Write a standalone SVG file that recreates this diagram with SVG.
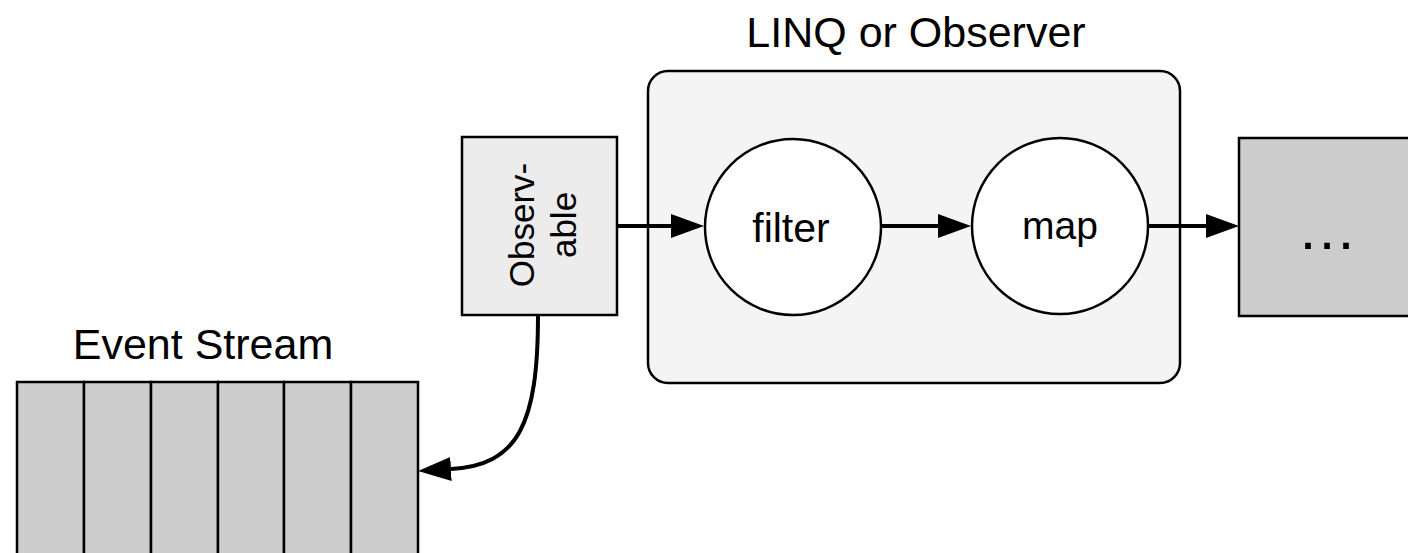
<svg xmlns="http://www.w3.org/2000/svg" width="1408" height="553" viewBox="0 0 1408 553">
<style>
  text { font-family: "Liberation Sans", Arial, Helvetica, sans-serif; fill: #000; }
  .box { stroke: #000; stroke-width: 2.5; }
  .conn { fill: none; stroke: #000; stroke-width: 4; }
</style>
<defs>
  <marker id="arrow" viewBox="0 0 33 24" refX="0" refY="12" markerWidth="33" markerHeight="24" markerUnits="userSpaceOnUse" orient="auto">
    <path d="M0,0 L33,12 L0,24 z" fill="#000"/>
  </marker>
</defs>

<g id="container">
  <rect class="box" x="648" y="71" width="532" height="312" rx="20" ry="20" fill="#f4f4f4"/>
  <text x="916" y="47" font-size="43" text-anchor="middle">LINQ or Observer</text>
</g>

<g id="observable">
  <rect class="box" x="462" y="137" width="155" height="178" fill="#ececec"/>
  <g transform="translate(540,225) rotate(-90)">
    <text x="0" y="-6" font-size="35" text-anchor="middle">Observ-</text>
    <text x="0" y="36" font-size="35" text-anchor="middle">able</text>
  </g>
</g>

<g id="filter">
  <circle class="box" cx="793" cy="227" r="88" fill="#fff"/>
  <text x="791" y="242" font-size="41" text-anchor="middle">filter</text>
</g>

<g id="map">
  <circle class="box" cx="1060" cy="226" r="88" fill="#fff"/>
  <text x="1060" y="239" font-size="39" text-anchor="middle">map</text>
</g>

<g id="next">
  <rect class="box" x="1239" y="138" width="180" height="178" fill="#cccccc"/>
  <text x="1327" y="249" font-size="60" text-anchor="middle">…</text>
</g>

<g id="event-stream">
  <text x="203" y="359" font-size="43" text-anchor="middle">Event Stream</text>
  <rect class="box" x="17" y="382" width="67" height="190" fill="#cccccc"/>
  <rect class="box" x="84" y="382" width="67" height="190" fill="#cccccc"/>
  <rect class="box" x="151" y="382" width="67" height="190" fill="#cccccc"/>
  <rect class="box" x="218" y="382" width="66" height="190" fill="#cccccc"/>
  <rect class="box" x="284" y="382" width="67" height="190" fill="#cccccc"/>
  <rect class="box" x="351" y="382" width="67" height="190" fill="#cccccc"/>
</g>

<g id="connectors">
  <path class="conn" d="M617,226 L671,226" marker-end="url(#arrow)"/>
  <path class="conn" d="M881,226 L938,226" marker-end="url(#arrow)"/>
  <path class="conn" d="M1148,226 L1206,226" marker-end="url(#arrow)"/>
  <path class="conn" d="M538,315 C538,425 518,465 451,469" marker-end="url(#arrow)"/>
</g>
</svg>
